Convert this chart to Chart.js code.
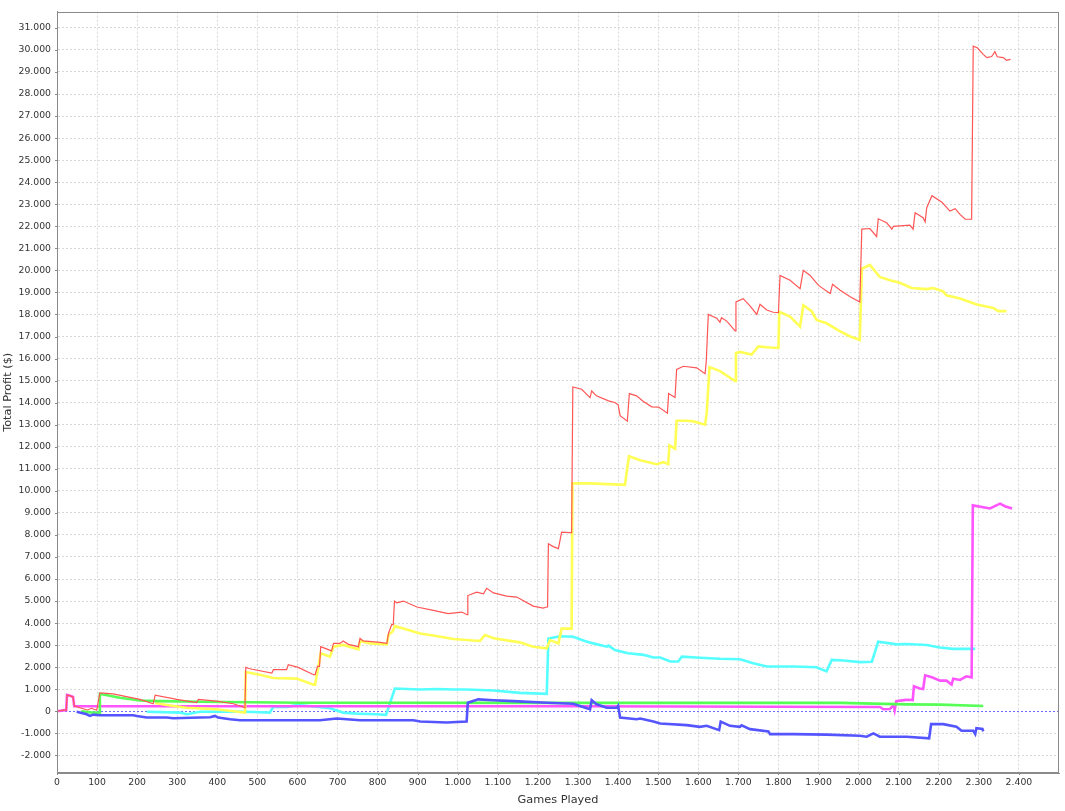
<!DOCTYPE html>
<html><head><meta charset="utf-8">
<script src="https://cdn.jsdelivr.net/npm/chart.js@4.4.0/dist/chart.umd.min.js"></script>
<style>html,body{margin:0;padding:0;background:#fff;overflow:hidden}#wrap{width:1065px;height:811px}</style>
</head><body><div id="wrap"><canvas id="c" width="1065" height="811"></canvas></div>
<script>
const xTitle = 'Games Played';
const yTitle = 'Total Profit ($)';
const xMin = 0, xMax = 2500, xStep = 100, xLastTick = 2400;
const yMin = -2800, yMax = 31740, yStep = 1000, yFirstTick = -2000, yLastTick = 31000;

const redGames = [0,15,23,25,33,40,43,57,76,86,99,107,140,207,240,245,299,348,353,398,440,469,471,481,536,540,573,577,602,640,644,650,655,658,685,690,706,714,727,752,756,764,806,823,827,835,839,842,848,864,898,939,976,1010,1023,1025,1047,1064,1072,1089,1122,1147,1188,1213,1222,1224,1226,1238,1251,1259,1280,1284,1287,1309,1330,1334,1346,1376,1392,1400,1405,1423,1428,1446,1463,1484,1501,1523,1526,1542,1546,1563,1596,1617,1620,1625,1646,1654,1658,1671,1692,1694,1712,1729,1746,1754,1771,1787,1800,1804,1829,1854,1862,1879,1900,1929,1935,1954,1979,2003,2008,2028,2045,2049,2070,2083,2087,2103,2128,2136,2141,2161,2166,2170,2183,2208,2228,2241,2253,2266,2282,2286,2296,2311,2320,2332,2340,2346,2361,2369,2379];
const redProfit = [0,50,50,740,700,650,240,160,60,135,45,835,790,540,340,730,540,390,540,460,340,160,1990,1930,1735,1885,1885,2110,1990,1660,1660,2035,2035,2930,2740,3080,3080,3190,3035,2930,3305,3190,3125,3080,3530,3935,3935,5000,4920,5000,4730,4580,4430,4500,4380,5250,5400,5330,5580,5370,5220,5180,4770,4680,4730,4730,7600,7470,7380,8130,8100,8100,14710,14610,14230,14530,14310,14080,14010,13900,13410,13160,14410,14310,14050,13810,13800,13520,14410,14230,15510,15650,15580,15310,15900,18000,17830,17650,17850,17700,17260,18570,18720,18390,18000,18460,18200,18100,18080,19770,19550,19170,20000,19770,19320,18950,19370,19100,18800,18570,21870,21900,21540,22340,22160,21870,22000,22020,22050,21870,22610,22390,22200,22840,23390,23090,22690,22800,22540,22320,22320,30170,30100,29800,29650,29700,29920,29690,29650,29530,29570];

const blueGames = [49,74,82,91,107,190,199,224,274,290,357,382,394,402,432,457,656,698,723,756,889,906,972,1022,1025,1051,1089,1139,1222,1288,1305,1330,1334,1346,1372,1397,1400,1405,1446,1455,1488,1505,1571,1604,1621,1652,1656,1679,1704,1708,1729,1775,1779,1837,1920,2003,2020,2037,2053,2120,2176,2181,2211,2244,2257,2286,2291,2294,2309,2311];
const blueProfit = [-20,-135,-210,-150,-180,-180,-210,-285,-285,-315,-285,-270,-210,-285,-360,-405,-405,-330,-360,-405,-405,-465,-510,-465,390,540,500,460,390,340,240,90,505,315,160,160,240,-285,-360,-330,-465,-555,-630,-705,-660,-855,-465,-660,-705,-640,-810,-915,-1035,-1035,-1060,-1110,-1155,-1005,-1155,-1155,-1230,-585,-585,-705,-885,-885,-1035,-765,-800,-915];

const greenGames = [60,85,100,105,107,116,157,207,257,357,606,1300,1954,2120,2203,2311];
const greenProfit = [0,-50,-70,-70,780,760,610,490,460,430,390,380,380,315,300,240];

const yellowGames = [245,270,323,398,440,469,471,506,540,598,640,644,658,681,690,714,752,756,781,823,827,837,843,864,906,931,989,1055,1068,1089,1155,1188,1222,1230,1251,1259,1284,1286,1330,1417,1427,1455,1496,1513,1525,1528,1542,1546,1571,1588,1617,1621,1628,1654,1692,1694,1704,1733,1750,1779,1800,1802,1829,1854,1862,1883,1895,1920,1954,1979,2003,2008,2028,2053,2078,2103,2132,2170,2186,2211,2219,2253,2295,2336,2349,2369];
const yellowProfit = [380,300,160,90,0,-60,1780,1660,1510,1480,1210,1210,2630,2480,2930,3010,2810,3190,3080,3035,3460,3610,3860,3750,3530,3460,3280,3190,3460,3310,3125,2930,2860,3230,3080,3750,3750,10340,10340,10270,11570,11390,11210,11300,11210,12060,11910,13180,13180,13150,13000,13520,15610,15430,14980,16250,16300,16180,16550,16500,16480,18120,17900,17450,18420,18150,17750,17600,17230,17000,16850,20070,20250,19700,19550,19440,19200,19150,19200,19050,18870,18720,18450,18300,18150,18150];

const magentaGames = [0,20,23,25,33,40,43,600,1300,2053,2062,2078,2087,2090,2094,2113,2120,2135,2138,2153,2161,2166,2183,2203,2219,2232,2236,2253,2269,2282,2285,2328,2353,2365,2383];
const magentaProfit = [0,50,50,740,700,650,230,230,225,195,90,100,280,45,460,505,520,505,1135,1030,1010,1630,1540,1390,1390,1210,1480,1420,1585,1540,9340,9200,9420,9300,9200];

const cyanGames = [224,307,324,357,440,490,531,540,573,598,623,681,714,748,798,821,843,906,947,989,1022,1089,1155,1222,1226,1255,1288,1317,1338,1372,1376,1392,1425,1463,1488,1505,1530,1550,1559,1604,1654,1704,1737,1771,1837,1895,1920,1933,1962,2003,2033,2049,2095,2120,2170,2203,2236,2291];
const cyanProfit = [-20,-60,-135,-20,-10,-30,-60,200,200,280,250,135,-60,-105,-135,-165,1030,990,1010,990,990,940,835,790,3300,3400,3380,3190,3080,2930,2980,2780,2630,2560,2440,2440,2260,2260,2480,2430,2380,2360,2180,2030,2030,2000,1810,2330,2300,2230,2250,3160,3035,3050,3010,2890,2830,2830];

function pts(gs, ps){ return gs.map((g,i)=>({x:g, y:ps[i]})); }
function fmt(v){ const s = Math.abs(Math.round(v)).toString().replace(/\B(?=(\d{3})+(?!\d))/g,'.'); return (v<0?'-':'')+s; }

const FONT = 'DejaVu Sans';
const frame = {
  id:'frame',
  beforeDatasetsDraw(chart){
    const {ctx, chartArea:a, scales:{y}} = chart;
    const py = Math.round(y.getPixelForValue(0)) + 0.5;
    ctx.save();
    ctx.fillStyle = '#ffffff';
    ctx.fillRect(a.left+1, py-0.5, a.right-a.left-2, 1);
    ctx.strokeStyle = '#6a6aff'; ctx.lineWidth = 1; ctx.setLineDash([2,2]);
    ctx.beginPath(); ctx.moveTo(a.left, py); ctx.lineTo(a.right, py); ctx.stroke();
    ctx.restore();
  },
  afterDraw(chart){
    const {ctx, chartArea:a, scales:{x,y}} = chart;
    ctx.save();
    ctx.strokeStyle = '#8a8a8a'; ctx.lineWidth = 1;
    ctx.strokeRect(Math.round(a.left)+0.5, Math.round(a.top)+0.5, Math.round(a.right-a.left)-1, Math.round(a.bottom-a.top)-1);
    ctx.beginPath();
    x.ticks.forEach(t=>{ const px = Math.round(x.getPixelForValue(t.value))+0.5; ctx.moveTo(px, a.bottom); ctx.lineTo(px, a.bottom+2); });
    y.ticks.forEach(t=>{ const py = Math.round(y.getPixelForValue(t.value))+0.5; ctx.moveTo(a.left-2, py); ctx.lineTo(a.left, py); });
    ctx.stroke();
    ctx.restore();
  }
};

const mk = (label, gs, ps, color, w) => ({label, data: pts(gs, ps), borderColor: color, backgroundColor: color, borderWidth: w, pointRadius: 0, tension: 0, fill: false, borderJoinStyle: 'miter'});

new Chart(document.getElementById('c'), {
  type: 'line',
  data: { datasets: [
    mk('red', redGames, redProfit, '#ff5555', 1.2),
    mk('blue', blueGames, blueProfit, '#5555ff', 2.6),
    mk('green', greenGames, greenProfit, '#55ff55', 2.6),
    mk('yellow', yellowGames, yellowProfit, '#ffff55', 2.6),
    mk('magenta', magentaGames, magentaProfit, '#ff55ff', 2.6),
    mk('cyan', cyanGames, cyanProfit, '#55ffff', 2.6)
  ]},
  options: {
    responsive: false, animation: false, devicePixelRatio: 1,
    layout: { padding: { left: 0, right: 6, top: 3, bottom: 0 } },
    plugins: { legend: { display: false }, tooltip: { enabled: false } },
    scales: {
      x: {
        type: 'linear', min: xMin, max: xMax,
        afterFit(s){ s.height = 38; },
        afterBuildTicks(s){ s.ticks = []; for (let v = xMin; v <= xLastTick; v += xStep) s.ticks.push({value: v}); },
        ticks: { stepSize: xStep, autoSkip: false, maxRotation: 0, padding: 4, color: '#333', font: { family: FONT, size: 9.3 }, callback: v => fmt(v) },
        grid: { color: '#d8d8d8', lineWidth: 1, drawTicks: false },
        border: { display: true, color: '#8a8a8a', dash: [2,2] },
        title: { display: true, text: xTitle, color: '#333', font: { family: FONT, size: 11.3 }, padding: { top: 0, bottom: 4 } }
      },
      y: {
        type: 'linear', min: yMin, max: yMax,
        afterFit(s){ s.width = 57; },
        afterBuildTicks(s){ s.ticks = []; for (let v = yFirstTick; v <= yLastTick; v += yStep) s.ticks.push({value: v}); },
        ticks: { stepSize: yStep, autoSkip: false, padding: 6, color: '#333', font: { family: FONT, size: 9.3 }, callback: v => fmt(v) },
        grid: { color: '#d8d8d8', lineWidth: 1, drawTicks: false },
        border: { display: true, color: '#8a8a8a', dash: [2,2] },
        title: { display: true, text: yTitle, color: '#333', font: { family: FONT, size: 11.3 }, padding: { top: 1, bottom: 0 } }
      }
    }
  },
  plugins: [frame]
});
</script></body></html>
